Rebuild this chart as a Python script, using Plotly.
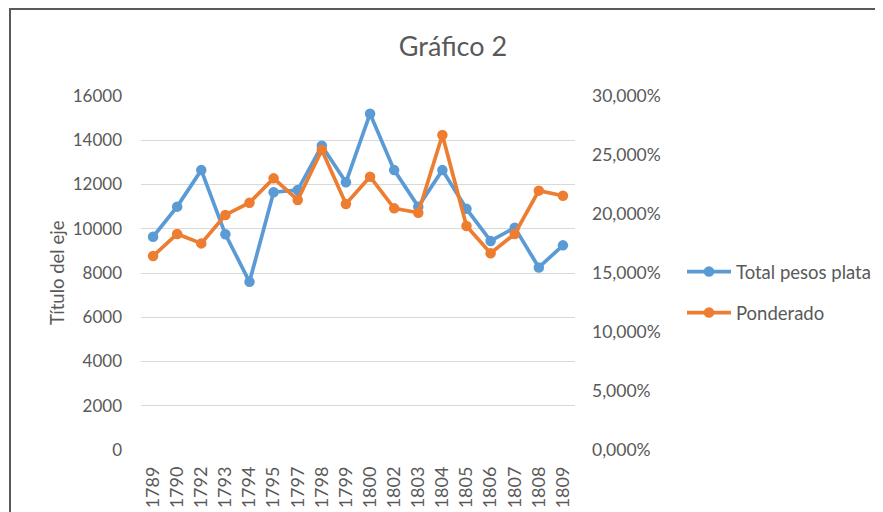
import plotly.graph_objects as go

years = ["1789", "1790", "1792", "1793", "1794", "1795", "1797", "1798", "1799",
         "1800", "1802", "1803", "1804", "1805", "1806", "1807", "1808", "1809"]
total_pesos_plata = [9640, 11000, 12650, 9750, 7600, 11650, 11750, 13750, 12100,
                     15200, 12650, 11000, 12650, 10900, 9450, 10050, 8250, 9250]
ponderado = [0.1644, 0.1831, 0.1751, 0.1992, 0.2096, 0.2302, 0.2119, 0.2542, 0.2085,
             0.2316, 0.2048, 0.2011, 0.2669, 0.1898, 0.1667, 0.1831, 0.2198, 0.2155]

left_ticks = [0, 2000, 4000, 6000, 8000, 10000, 12000, 14000, 16000]
right_ticks = [0, 0.05, 0.10, 0.15, 0.20, 0.25, 0.30]

BLUE = "#5B9BD5"
ORANGE = "#ED7D31"
TXT = "#595959"
FONT = "Lato"

# the page body offsets the figure by 8px; the figure fills the rest of the window
OFF = 8
W, H = 883 - OFF, 512 - OFF
L, T = 141 - OFF, 96 - OFF
R = W - (575 - OFF)
B = H - (450 - OFF)
pw = W - L - R
ph = H - T - B
Y0 = 450 - OFF  # pixel row of the plot bottom in figure coordinates


def px_x(x):
    return (x - OFF - L) / pw


def px_y(y):
    return (Y0 - (y - OFF)) / ph


fig = go.Figure()
fig.add_trace(go.Scatter(
    x=years, y=total_pesos_plata, name="Total pesos plata", mode="lines+markers",
    line=dict(color=BLUE, width=3.7), marker=dict(color=BLUE, size=10.5),
    legendgroup="a", yaxis="y"))
fig.add_trace(go.Scatter(
    x=years, y=ponderado, name="Ponderado", mode="lines+markers",
    line=dict(color=ORANGE, width=3.7), marker=dict(color=ORANGE, size=10.5),
    legendgroup="b", yaxis="y2"))

fig.update_layout(
    width=W, height=H,
    margin=dict(l=L, r=R, t=T, b=B, pad=0, autoexpand=False),
    paper_bgcolor="white", plot_bgcolor="white",
    separators=",.",
    font=dict(family=FONT, color=TXT, size=16),
    title=dict(text="Gráfico 2", x=(453 - OFF) / W, xref="container", xanchor="center",
               y=1 - (47 - OFF) / H, yref="container", yanchor="middle",
               font=dict(size=27, color=TXT, family=FONT), automargin=False),
    xaxis=dict(type="category", range=[-0.5, len(years) - 0.5], tickangle=-90,
               showgrid=False, showline=False, zeroline=False, ticks="",
               automargin=False,
               tickfont=dict(size=18, color=TXT), ticklabelstandoff=12),
    yaxis=dict(range=[0, 16000], tickvals=left_ticks, tickformat="d",
               showgrid=True, gridcolor="#d9d9d9", gridwidth=1.3,
               zeroline=False, showline=False, ticks="", automargin=False,
               tickfont=dict(size=17, color=TXT), ticklabelstandoff=18),
    yaxis2=dict(range=[0, 0.30], tickvals=right_ticks, tickformat=".3%",
                overlaying="y", side="right", showgrid=False, zeroline=False,
                showline=False, ticks="", automargin=False,
                tickfont=dict(size=17.5, color=TXT), ticklabelstandoff=16),
    legend=dict(x=px_x(682), xanchor="left", y=px_y(253), yanchor="top",
                font=dict(size=18.5, color=TXT), tracegroupgap=14,
                traceorder="grouped", bgcolor="rgba(0,0,0,0)", itemwidth=44),
    showlegend=True,
    annotations=[dict(text="Título del eje", textangle=-90, x=px_x(57), y=px_y(273),
                      xref="paper", yref="paper", showarrow=False,
                      font=dict(size=18.5, color=TXT, family=FONT),
                      xanchor="center", yanchor="middle")],
    shapes=[dict(type="rect", xref="paper", yref="paper",
                 x0=px_x(10), x1=px_x(883 + 30),
                 y0=px_y(512 + 30), y1=px_y(9),
                 line=dict(color="#595959", width=2), fillcolor="rgba(0,0,0,0)",
                 layer="below")],
)

fig.write_html("out.html")
